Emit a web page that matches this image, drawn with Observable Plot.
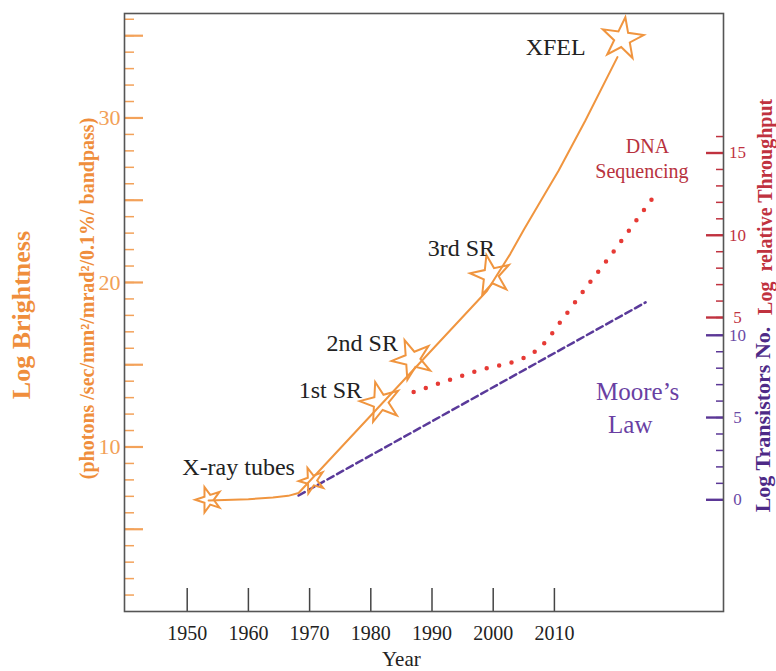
<!DOCTYPE html>
<html>
<head>
<meta charset="utf-8">
<script src="https://cdn.jsdelivr.net/npm/d3@7"></script>
<script src="https://cdn.jsdelivr.net/npm/@observablehq/plot@0.6"></script>
<style>
  html, body { margin: 0; padding: 0; background: #ffffff; }
  #chart svg { display: block; }
</style>
</head>
<body>
<div id="chart"></div>
<script>
// ---------- tick labels ----------
const xTickYears = [1950, 1960, 1970, 1980, 1990, 2000, 2010];
const brightnessMinorTicks = d3.range(1, 37);
const brightnessMajorTicks = [5, 10, 15, 20, 25, 30, 35];
const brightnessTickLabels = [10, 20, 30];
const throughputMinorTicks = d3.range(5, 17);
const throughputMajorTicks = [5, 10, 15];
const transistorMinorTicks = d3.range(0, 11);
const transistorMajorTicks = [0, 5, 10];

// ---------- series ----------
// Log brightness of X-ray sources (orange curve)
const brightnessYears  = [1953.5, 1960, 1964, 1966.5, 1968.2, 1999, 2002.8, 2005, 2008, 2010.7, 2015, 2020.3];
const brightnessValues = [6.75, 6.83, 6.93, 7.03, 7.2, 19.5, 21.74, 23.2, 25.1, 26.81, 29.8, 33.7];

// X-ray sources (stars)
const sourceNames      = ["X-ray tubes", "", "1st SR", "2nd SR", "3rd SR", "XFEL"];
const sourceYears      = [1953.5, 1970.4, 1981.6, 1986.8, 1999.6, 2021.1];
const sourceBrightness = [6.79, 7.96, 12.72, 15.32, 20.43, 34.81];
const sourceKind       = ["tube", "tube", "sr", "sr", "sr", "fel"];

// Moore's law (log transistors no.)
const mooreYears = [1968.2, 2024.9];
const mooreLogTransistors = [0.26, 12.0];

// DNA sequencing (log relative throughput)
const dnaYears = [1987.0, 1997.1, 2006.5, 2008.0, 2011.1, 2015.0, 2018.9, 2022.7, 2026.5];
const dnaLogThroughput = [0.47, 1.73, 2.85, 3.3, 4.79, 6.74, 8.63, 10.55, 12.49];

// Where the zero of each right-hand axis sits on the brightness axis
const transistorOffset = 6.79;
const throughputOffset = 12.87;

// Source label anchors (year, brightness)
const labelTexts  = ["X-ray tubes", "1st SR", "2nd SR", "3rd SR", "XFEL"];
const labelYears  = [1958.4, 1973.4, 1978.6, 1994.8, 2010.2];
const labelValues = [8.77, 13.43, 16.31, 22.05, 34.3];

// ---------- tables ----------
const brightnessData = brightnessYears.map((year, i) => ({year, value: brightnessValues[i]}));
const sourceData = sourceYears.map((year, i) => ({name: sourceNames[i], year, value: sourceBrightness[i], kind: sourceKind[i]}));
const mooreData = mooreYears.map((year, i) => ({year, value: mooreLogTransistors[i]}));
const dnaData = dnaYears.map((year, i) => ({year, value: dnaLogThroughput[i]}));
const labelData = labelTexts.map((text, i) => ({text, year: labelYears[i], value: labelValues[i]}));

// ---------- styles ----------
const ORANGE = "#f0953f", ORANGE_TICK = "#f3a25a", ORANGE_TEXT = "#f2a057", ORANGE_TITLE = "#ef8e3c";
const RED_AXIS = "#c0323f", RED_DOTS = "#e63a35", RED_TEXT = "#b8323e";
const PURPLE_AXIS = "#5b3796", PURPLE_LINE = "#5a3a9a", PURPLE_TEXT = "#6a3fa3";
const starRadius = {tube: 8, sr: 12.5, fel: 13};
const starTilt = [-18, -20, -15, -22, -12, 8];
const SERIF = "'Liberation Serif', 'Times New Roman', serif";

const chart = Plot.plot({
  width: 776,
  height: 671,
  marginLeft: 124,
  marginRight: 53,
  marginTop: 13,
  marginBottom: 60,
  style: {fontFamily: SERIF, background: "#ffffff", overflow: "visible"},
  x: {domain: [1939.755, 2037.63], axis: null},
  y: {domain: [0, 36.35], axis: null},
  r: {type: "identity"},
  marks: [
    // left axis (brightness): inward ticks
    Plot.axisY(brightnessMinorTicks, {anchor: "left", tickSize: 10, dx: 10, fill: "none", stroke: ORANGE_TICK, strokeWidth: 1.5, label: null}),
    Plot.axisY(brightnessMajorTicks, {anchor: "left", tickSize: 19, dx: 19, fill: "none", stroke: ORANGE_TICK, strokeWidth: 2.2, label: null}),
    Plot.axisY(brightnessTickLabels, {anchor: "left", tickSize: 0, tickPadding: 4, fill: ORANGE_TEXT, fontSize: 22, label: null}),

    // right axis (throughput, red)
    Plot.axisY(throughputMinorTicks.map(v => v + throughputOffset), {anchor: "right", tickSize: 8, dx: -8, fill: "none", stroke: RED_AXIS, strokeWidth: 1.5, label: null}),
    Plot.axisY(throughputMajorTicks.map(v => v + throughputOffset), {anchor: "right", tickSize: 18, dx: -18, fill: "none", stroke: RED_AXIS, strokeWidth: 2.4, label: null}),
    Plot.axisY(throughputMajorTicks.map(v => v + throughputOffset), {anchor: "right", tickSize: 0, tickPadding: 14, textAnchor: "middle", tickFormat: v => Math.round(v - throughputOffset), fill: RED_AXIS, fontSize: 17, label: null}),

    // right axis (transistors, purple)
    Plot.axisY(transistorMinorTicks.map(v => v + transistorOffset), {anchor: "right", tickSize: 8, dx: -8, fill: "none", stroke: PURPLE_AXIS, strokeWidth: 1.5, label: null}),
    Plot.axisY(transistorMajorTicks.map(v => v + transistorOffset), {anchor: "right", tickSize: 18, dx: -18, fill: "none", stroke: PURPLE_AXIS, strokeWidth: 2.4, label: null}),
    Plot.axisY(transistorMajorTicks.map(v => v + transistorOffset), {anchor: "right", tickSize: 0, tickPadding: 14, textAnchor: "middle", tickFormat: v => Math.round(v - transistorOffset), fill: "#6a4aa5", fontSize: 17, label: null}),

    // x axis: inward ticks + labels
    Plot.axisX(xTickYears, {anchor: "bottom", tickSize: 23, dy: -23, fill: "none", stroke: "#444", strokeWidth: 1.5, label: null}),
    Plot.axisX(xTickYears, {anchor: "bottom", tickSize: 0, tickPadding: 14, tickFormat: d => String(d), fill: "#222", fontSize: 20, label: null}),

    Plot.frame({stroke: "#555", strokeWidth: 1.6}),

    // Moore's law (dashed)
    Plot.line(mooreData, {x: "year", y: d => d.value + transistorOffset, stroke: PURPLE_LINE, strokeWidth: 2.5, strokeDasharray: "7,4"}),

    // DNA sequencing (dotted)
    Plot.line(dnaData, {x: "year", y: d => d.value + throughputOffset, curve: "monotone-x", stroke: RED_DOTS, strokeWidth: 4.5, strokeLinecap: "round", strokeDasharray: "0,12.8"}),

    // brightness curve
    Plot.line(brightnessData, {x: "year", y: "value", curve: "linear", stroke: ORANGE, strokeWidth: 2}),

    // stars
    Plot.dot(sourceData, {x: "year", y: "value", symbol: "star", r: d => starRadius[d.kind], rotate: (d, i) => starTilt[i], fill: "none", stroke: ORANGE, strokeWidth: 2}),

    // source labels
    Plot.text(labelData, {x: "year", y: "value", text: "text", fontSize: 24, fill: "#222"}),

    // series labels
    Plot.text([{t: "DNA", year: 2025.2, v: 28.23}, {t: "Sequencing", year: 2024.3, v: 26.71}], {x: "year", y: "v", text: "t", fontSize: 20, fill: RED_TEXT}),
    Plot.text([{t: "Moore\u2019s", year: 2023.6, v: 13.33}, {t: "Law", year: 2022.4, v: 11.31}], {x: "year", y: "v", text: "t", fontSize: 25, fill: PURPLE_TEXT}),

    // axis titles
    Plot.text([{t: "Log Brightness", v: 18.02}], {y: "v", text: "t", frameAnchor: "left", textAnchor: "middle", dx: -103, rotate: -90, fontSize: 26, fontWeight: "bold", fill: ORANGE_TITLE}),
    Plot.text([{t: "(photons /sec/mm\u00b2/mrad\u00b2/0.1%/ bandpass)", v: 19.03}], {y: "v", text: "t", frameAnchor: "left", textAnchor: "middle", dx: -37, rotate: -90, fontSize: 20, fontWeight: "bold", fill: ORANGE_TITLE}),
    Plot.text([{t: "Log  relative Throughput", v: 24.6}], {y: "v", text: "t", frameAnchor: "right", textAnchor: "middle", dx: 42, rotate: -90, fontSize: 20, fontWeight: "bold", fill: RED_AXIS}),
    Plot.text([{t: "Log Transistors No.", v: 11.67}], {y: "v", text: "t", frameAnchor: "right", textAnchor: "middle", dx: 39, rotate: -90, fontSize: 22, fontWeight: "bold", fill: "#4e2a87"}),
    Plot.text([{t: "Year", year: 1985}], {x: "year", text: "t", frameAnchor: "bottom", dy: 54, lineAnchor: "bottom", fontSize: 21, fill: "#222"})
  ]
});

document.getElementById("chart").appendChild(chart);
</script>
</body>
</html>
